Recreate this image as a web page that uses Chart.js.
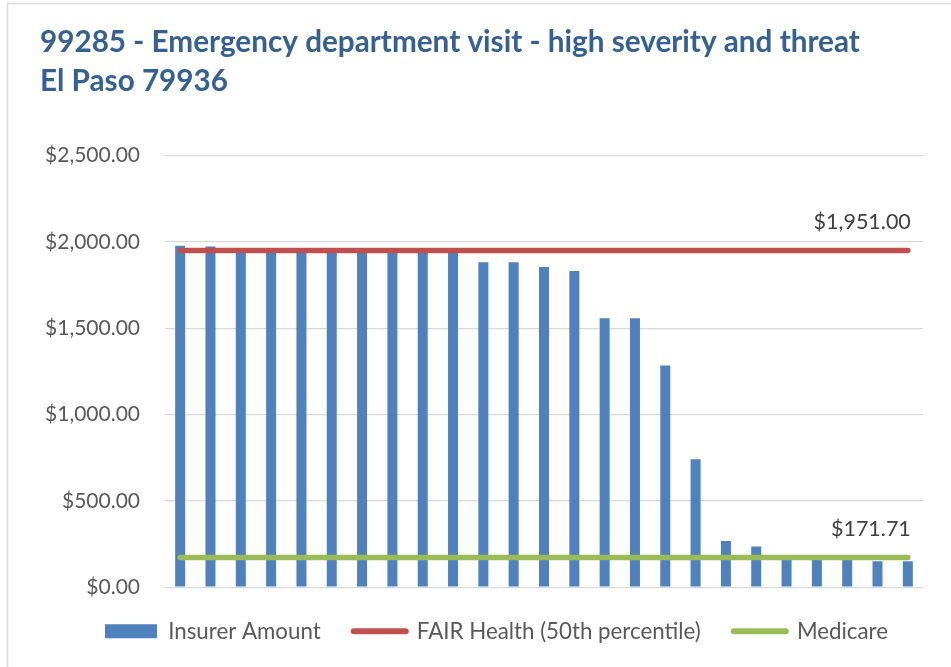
<!DOCTYPE html>
<html>
<head>
<meta charset="utf-8">
<script src="https://cdn.jsdelivr.net/npm/chart.js@4.4.1/dist/chart.umd.min.js"></script>
<style>
  html, body { margin: 0; padding: 0; background: #fff; }
  #wrap { width: 951px; height: 667px; position: relative; }
</style>
</head>
<body>
<div id="wrap"><canvas id="costChart"></canvas></div>
<script>
// data
const claims = ['1','2','3','4','5','6','7','8','9','10','11','12','13',
  '14','15','16','17','18','19','20','21','22','23','24','25'];
const insurerAmount = [1978, 1974, 1951, 1951, 1951, 1951, 1951, 1951, 1951, 1951,
  1882, 1882, 1855, 1832, 1558, 1558, 1284, 741, 268, 236, 178, 176, 174, 150, 150];
const fairHealth = [1951, 1951, 1951, 1951, 1951, 1951, 1951, 1951, 1951, 1951,
  1951, 1951, 1951, 1951, 1951, 1951, 1951, 1951, 1951, 1951, 1951, 1951, 1951, 1951, 1951];
const medicare = [171.71, 171.71, 171.71, 171.71, 171.71, 171.71, 171.71, 171.71, 171.71,
  171.71, 171.71, 171.71, 171.71, 171.71, 171.71, 171.71, 171.71, 171.71, 171.71,
  171.71, 171.71, 171.71, 171.71, 171.71, 171.71];
const yTicks = [0, 500, 1000, 1500, 2000, 2500];

const money = v => '$' + v.toLocaleString('en-US', {minimumFractionDigits: 2, maximumFractionDigits: 2});

Chart.defaults.font.family = 'Lato, "Open Sans", sans-serif';
Chart.defaults.color = '#595959';

// white background + the thin frame of the chart box
const frame = {
  id: 'frame',
  beforeDraw(chart) {
    const c = chart.ctx;
    c.save();
    c.fillStyle = '#fff';
    c.fillRect(0, 0, chart.width, chart.height);
    c.strokeStyle = '#d9d9d9';
    c.lineWidth = 1.5;
    c.strokeRect(7.5, 3.5, 1200, 1200);
    c.restore();
  },
  afterLayout(chart) {
    // nudge legend to the right like the original
    chart.legend.left += 15;
    chart.legend.right += 15;
  }
};

// value label at the end of the two reference lines
const endLabels = {
  id: 'endLabels',
  afterDatasetsDraw(chart) {
    const c = chart.ctx;
    c.save();
    c.font = '21.5px Lato, "Open Sans", sans-serif';
    c.fillStyle = '#404040';
    c.textAlign = 'right';
    c.textBaseline = 'middle';
    [1, 2].forEach(i => {
      const pts = chart.getDatasetMeta(i).data;
      const p = pts[pts.length - 1];
      const v = chart.data.datasets[i].data[pts.length - 1];
      c.fillText(money(v), p.x + 3, p.y - 28);
    });
    c.restore();
  }
};

new Chart(document.getElementById('costChart'), {
  data: {
    labels: claims,
    datasets: [{
      type: 'bar',
      label: 'Insurer Amount',
      data: insurerAmount,
      backgroundColor: '#4f81bd',
      barPercentage: 0.33,
      categoryPercentage: 1,
      order: 2
    }, {
      type: 'line',
      label: 'FAIR Health (50th percentile)',
      data: fairHealth,
      borderColor: '#c0504d',
      backgroundColor: '#c0504d',
      borderWidth: 5.5,
      borderCapStyle: 'round',
      pointRadius: 0,
      order: 1
    }, {
      type: 'line',
      label: 'Medicare',
      data: medicare,
      borderColor: '#9bbb59',
      backgroundColor: '#9bbb59',
      borderWidth: 5.5,
      borderCapStyle: 'round',
      pointRadius: 0,
      order: 0
    }]
  },
  options: {
    responsive: true,
    maintainAspectRatio: false,
    animation: false,
    layout: { padding: { left: 40, right: 28, top: 0, bottom: 14.5 } },
    plugins: {
      title: {
        display: true,
        text: ['99285 - Emergency department visit - high severity and threat', 'El Paso 79936'],
        align: 'start',
        color: '#376092',
        font: { size: 29.7, weight: 'bold', lineHeight: 1.3 },
        padding: { top: 23.5, bottom: 54.9 }
      },
      legend: {
        position: 'bottom',
        labels: {
          usePointStyle: true,
          pointStyleWidth: 52,
          boxHeight: 14,
          padding: 33,
          color: '#595959',
          font: { size: 22.3 },
          generateLabels(chart) {
            return chart.data.datasets.map((ds, i) => ({
              text: ds.label,
              datasetIndex: i,
              fillStyle: ds.backgroundColor,
              strokeStyle: ds.borderColor || ds.backgroundColor,
              lineWidth: ds.type === 'line' ? 6 : 0,
              lineCap: 'round',
              pointStyle: ds.type === 'line' ? 'line' : 'rect',
              fontColor: '#595959'
            }));
          }
        }
      },
      tooltip: { enabled: false }
    },
    scales: {
      x: {
        grid: { display: false },
        border: { display: false },
        ticks: { display: false },
        afterFit(s) { s.height = 0; }
      },
      y: {
        min: 0,
        max: 2500,
        afterBuildTicks(s) { s.ticks = yTicks.map(v => ({ value: v })); },
        afterFit(s) { s.width = 125; },
        grid: { color: '#d9d9d9', lineWidth: 1.2, drawTicks: false },
        border: { display: false },
        ticks: {
          padding: 25,
          color: '#595959',
          font: { size: 21 },
          callback: v => money(v)
        }
      }
    }
  },
  plugins: [frame, endLabels]
});
</script>
</body>
</html>
